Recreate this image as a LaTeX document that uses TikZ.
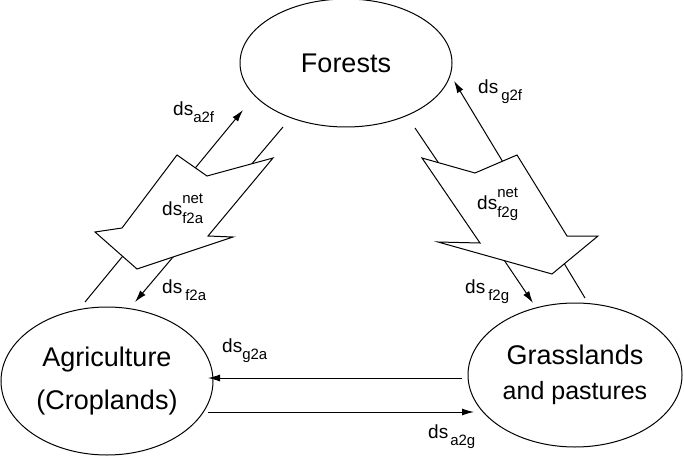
\documentclass[tikz,border=0pt]{standalone}
\usepackage{fontspec}
\setmainfont{Liberation Sans}
\usetikzlibrary{shapes.geometric,arrows.meta}
\newcommand{\subfnt}{\fontsize{15}{15}\selectfont}
\newcommand{\dsub}[2][0pt]{ds\hspace{#1}\raisebox{-7pt}{\subfnt #2}}
\newcommand{\dsnet}[1]{ds\rlap{\raisebox{12pt}{\subfnt net}}\raisebox{-8pt}{\subfnt #1}}
\begin{document}
\begin{tikzpicture}[x=1pt,y=-1pt,
  region/.style={draw, line width=1pt, ellipse, inner sep=0pt, align=center, fill=white},
  flow/.style={draw, line width=1pt, -{Latex[length=12pt,width=7pt]}},
  fat/.style={draw, line width=1pt, fill=white, line join=miter},
  lab/.style={anchor=base west, inner sep=0pt, font=\fontsize{19}{19}\selectfont}]
\useasboundingbox (0,0) rectangle (684,462);

% regions
\node[region, minimum width=212pt, minimum height=128pt, font=\fontsize{27}{32}\selectfont] (F) at (346,63) {Forests};
\node[region, minimum width=212pt, minimum height=148pt, font=\fontsize{27}{43}\selectfont] (A) at (107,381) {Agriculture\\(Croplands)};
\node[region, minimum width=214pt, minimum height=144pt, font=\fontsize{27}{35}\selectfont] (G) at (575,375)
  {Grasslands\\{\fontsize{25}{35}\selectfont and pastures}};

% connector end points
\coordinate (a2fS) at (85,302);  \coordinate (a2fE) at (243,110);
\coordinate (f2aS) at (283,127); \coordinate (f2aE) at (135,302);
\coordinate (g2fS) at (585,298); \coordinate (g2fE) at (454,81);
\coordinate (f2gS) at (415,128); \coordinate (f2gE) at (533,303);
\coordinate (g2aS) at (462,378); \coordinate (g2aE) at (208,378);
\coordinate (a2gS) at (208,412); \coordinate (a2gE) at (474,412);

% flows
\draw[flow] (a2fS) -- (a2fE);
\draw[flow] (f2aS) -- (f2aE);
\draw[flow] (g2fS) -- (g2fE);
\draw[flow] (f2gS) -- (f2gE);
\draw[flow] (g2aS) -- (g2aE);
\draw[flow] (a2gS) -- (a2gE);

% net flow arrows
\filldraw[fat] (177,155) -- (207,176) -- (273,158) -- (208,236) -- (233,237)
  -- (137,269) -- (95,232) -- (122,228) -- cycle;
\filldraw[fat] (422,158) -- (475,173) -- (517,155) -- (567,236) -- (598,236)
  -- (552,274) -- (438,242) -- (480,243) -- cycle;

% labels
\node[lab] (la2f) at (173,116) {\dsub{a2f}};
\node[lab] (lnf2a) at (162,215) {\dsnet{f2a}};
\node[lab] (lf2a) at (162,293) {\dsub[3pt]{f2a}};
\node[lab] (lg2f) at (478,94) {\dsub[3pt]{g2f}};
\node[lab] (lnf2g) at (477,209) {\dsnet{f2g}};
\node[lab] (lf2g) at (465,293) {\dsub[3pt]{f2g}};
\node[lab] (lg2a) at (222,352) {\dsub{g2a}};
\node[lab] (la2g) at (428,438) {\dsub[2pt]{a2g}};
\end{tikzpicture}
\end{document}
